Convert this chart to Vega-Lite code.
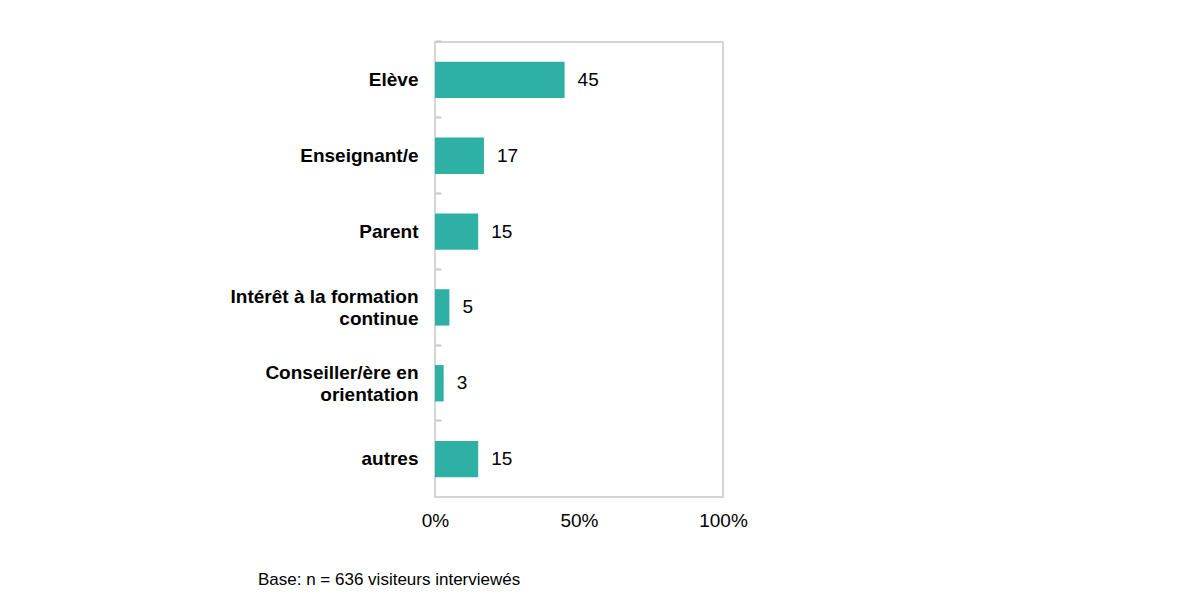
{
  "$schema": "https://vega.github.io/schema/vega-lite/v6.json",
  "autosize": "none",
  "padding": {"left": 435, "top": 42, "right": 458, "bottom": 117},
  "width": 288,
  "height": 455,
  "background": "white",
  "config": {
    "font": "Liberation Sans",
    "view": {"stroke": "#c8c8c8", "strokeWidth": 1.5}
  },
  "title": {
    "text": "Base: n = 636 visiteurs interviewés",
    "orient": "bottom",
    "anchor": "start",
    "frame": "group",
    "dx": -177,
    "offset": 42,
    "fontSize": 17,
    "fontWeight": "normal",
    "color": "#000000",
    "font": "Liberation Sans"
  },
  "data": {
    "values": [
      {"categorie": "Elève", "pct": 45},
      {"categorie": "Enseignant/e", "pct": 17},
      {"categorie": "Parent", "pct": 15},
      {"categorie": "Intérêt à la formation continue", "pct": 5},
      {"categorie": "Conseiller/ère en orientation", "pct": 3},
      {"categorie": "autres", "pct": 15}
    ]
  },
  "encoding": {
    "y": {
      "field": "categorie",
      "type": "nominal",
      "sort": null,
      "scale": {"paddingInner": 0.52, "paddingOuter": 0.26},
      "axis": {
        "title": null,
        "bandPosition": -0.55,
        "offset": -6,
        "domain": false,
        "tickColor": "#c8c8c8",
        "tickSize": 6,
        "tickWidth": 2,
        "labelPadding": 17,
        "labelFontSize": 19,
        "labelFontWeight": "bold",
        "labelColor": "#000000",
        "labelLineHeight": 22,
        "labelLimit": 300,
        "labelOffset": {
          "condition": {
            "test": "datum.value == 'Intérêt à la formation continue' || datum.value == 'Conseiller/ère en orientation'",
            "value": -10
          },
          "value": 0
        },
        "labelExpr": "datum.label == 'Intérêt à la formation continue' ? ['Intérêt à la formation', 'continue'] : datum.label == 'Conseiller/ère en orientation' ? ['Conseiller/ère en', 'orientation'] : datum.label"
      }
    },
    "x": {
      "field": "pct",
      "type": "quantitative",
      "scale": {"domain": [0, 100]},
      "axis": {
        "title": null,
        "values": [0, 50, 100],
        "labelExpr": "datum.value + '%'",
        "ticks": false,
        "domain": false,
        "grid": false,
        "labelPadding": 14,
        "labelFontSize": 19,
        "labelColor": "#000000",
        "labelFlush": false
      }
    }
  },
  "layer": [
    {
      "mark": {"type": "bar", "color": "#2eb0a4"}
    },
    {
      "mark": {"type": "text", "align": "left", "dx": 13, "fontSize": 19, "color": "#000000"},
      "encoding": {"text": {"field": "pct", "type": "quantitative"}}
    }
  ]
}
